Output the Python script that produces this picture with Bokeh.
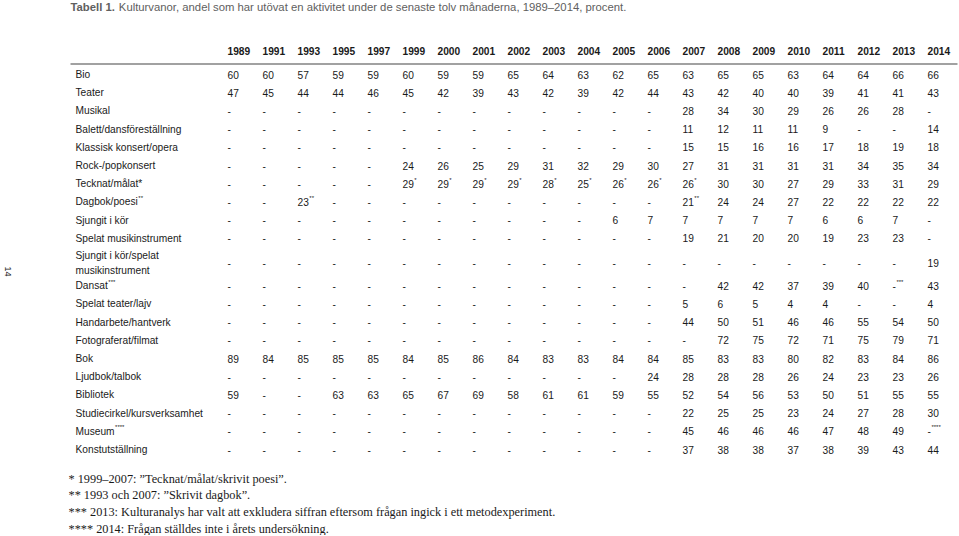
import math
from bokeh.plotting import figure
from bokeh.models import Range1d
from bokeh.core.properties import value
from bokeh.embed import file_html
from bokeh.resources import INLINE

# ---------------- data ----------------
title_bold = "Tabell 1."
title_rest = "Kulturvanor, andel som har utövat en aktivitet under de senaste tolv månaderna, 1989–2014, procent."
page_number = "14"

years = ["1989", "1991", "1993", "1995", "1997", "1999", "2000", "2001", "2002", "2003", "2004",
         "2005", "2006", "2007", "2008", "2009", "2010", "2011", "2012", "2013", "2014"]

# "^" marks the start of a superscript
labels = ["Bio", "Teater", "Musikal", "Balett/dansföreställning", "Klassisk konsert/opera",
          "Rock-/popkonsert", "Tecknat/målat*", "Dagbok/poesi^**", "Sjungit i kör",
          "Spelat musikinstrument", "Sjungit i kör/spelat\nmusikinstrument", "Dansat^***",
          "Spelat teater/lajv", "Handarbete/hantverk", "Fotograferat/filmat", "Bok",
          "Ljudbok/talbok", "Bibliotek", "Studiecirkel/kursverksamhet", "Museum^****",
          "Konstutställning"]

bio = ["60", "60", "57", "59", "59", "60", "59", "59", "65", "64", "63", "62", "65", "63", "65", "65", "63", "64", "64", "66", "66"]
teater = ["47", "45", "44", "44", "46", "45", "42", "39", "43", "42", "39", "42", "44", "43", "42", "40", "40", "39", "41", "41", "43"]
musikal = ["-"] * 13 + ["28", "34", "30", "29", "26", "26", "28", "-"]
balett = ["-"] * 13 + ["11", "12", "11", "11", "9", "-", "-", "14"]
klassisk = ["-"] * 13 + ["15", "15", "16", "16", "17", "18", "19", "18"]
rock = ["-"] * 5 + ["24", "26", "25", "29", "31", "32", "29", "30", "27", "31", "31", "31", "31", "34", "35", "34"]
tecknat = ["-"] * 5 + ["29^*", "29^*", "29^*", "29^*", "28^*", "25^*", "26^*", "26^*", "26^*", "30", "30", "27", "29", "33", "31", "29"]
dagbok = ["-", "-", "23^**", "-", "-", "-", "-", "-", "-", "-", "-", "-", "-", "21^**", "24", "24", "27", "22", "22", "22", "22"]
sjungit = ["-"] * 11 + ["6", "7", "7", "7", "7", "7", "6", "6", "7", "-"]
spelat_instr = ["-"] * 13 + ["19", "21", "20", "20", "19", "23", "23", "-"]
sjungit_spelat = ["-"] * 20 + ["19"]
dansat = ["-"] * 14 + ["42", "42", "37", "39", "40", "-^***", "43"]
spelat_teater = ["-"] * 13 + ["5", "6", "5", "4", "4", "-", "-", "4"]
handarbete = ["-"] * 13 + ["44", "50", "51", "46", "46", "55", "54", "50"]
foto = ["-"] * 14 + ["72", "75", "72", "71", "75", "79", "71"]
bok = ["89", "84", "85", "85", "85", "84", "85", "86", "84", "83", "83", "84", "84", "85", "83", "83", "80", "82", "83", "84", "86"]
ljudbok = ["-"] * 12 + ["24", "28", "28", "28", "26", "24", "23", "23", "26"]
bibliotek = ["59", "-", "-", "63", "63", "65", "67", "69", "58", "61", "61", "59", "55", "52", "54", "56", "53", "50", "51", "55", "55"]
studiecirkel = ["-"] * 13 + ["22", "25", "25", "23", "24", "27", "28", "30"]
museum = ["-"] * 13 + ["45", "46", "46", "46", "47", "48", "49", "-^****"]
konst = ["-"] * 13 + ["37", "38", "38", "37", "38", "39", "43", "44"]

rows = [bio, teater, musikal, balett, klassisk, rock, tecknat, dagbok, sjungit, spelat_instr,
        sjungit_spelat, dansat, spelat_teater, handarbete, foto, bok, ljudbok, bibliotek,
        studiecirkel, museum, konst]

footnotes = ["* 1999–2007: \u201dTecknat/målat/skrivit poesi\u201d.",
             "** 1993 och 2007: \u201dSkrivit dagbok\u201d.",
             "*** 2013: Kulturanalys har valt att exkludera siffran eftersom frågan ingick i ett metodexperiment.",
             "**** 2014: Frågan ställdes inte i årets undersökning."]

# ---------------- layout ----------------
W, H = 958, 535
TOP = 0
LEFT = 0
FONT = "Liberation Sans"
SERIF = "Liberation Serif"
FS = 10.2
TFS = 11.3
TXT = "#1a1a1a"

AW = {' ': 278, '-': 333, '*': 389, '/': 278, '.': 278, ',': 278, '–': 556}
for c in "0123456789":
    AW[c] = 556
for c, w in zip("abcdefghijklmnopqrstuvwxyz", [556, 556, 500, 556, 556, 278, 556, 556, 222, 222, 500, 222, 833,
                                               556, 556, 556, 556, 333, 500, 278, 556, 500, 722, 500, 500, 500]):
    AW[c] = w
for c in "åäö":
    AW[c] = 556
AW.update({'B': 667, 'D': 722, 'M': 833, 'T': 611, 'K': 667, 'S': 667})


def tw(s, size):
    return sum(AW.get(c, 556) for c in s) / 1000.0 * size


col_x0, col_dx = 227, 35.0
label_x = 75
row_y0, row_dy = 74, 18.2


def row_y(i):
    extra = 0
    if i == 10:
        extra = 6
    elif i > 10:
        extra = 11
    return row_y0 + i * row_dy + extra


p = figure(width=W, height=H, output_backend="svg", toolbar_location=None,
           x_range=Range1d(LEFT, LEFT + W), y_range=Range1d(TOP + H, TOP),
           min_border=0, outline_line_color=None)
p.axis.visible = False
p.grid.visible = False
p.background_fill_color = "white"
p.border_fill_color = "white"

# title
title_y = 6.5
p.text(x=[70], y=[title_y], text=[title_bold], text_font=value(FONT), text_font_size=f"{TFS}px",
       text_font_style="bold", text_color="#606060", text_baseline="middle", text_align="left")
bold_w = (611 + 556 + 611 + 556 + 278 + 278 + 278 + 556 + 278) / 1000.0 * TFS
p.text(x=[70 + bold_w + 0.278 * TFS], y=[title_y], text=[title_rest], text_font=value(FONT),
       text_font_size=f"{TFS}px", text_color="#606060", text_baseline="middle", text_align="left")

# page number rotated
p.text(x=[7], y=[271], text=[page_number], angle=-math.pi / 2, text_font=value(FONT),
       text_font_size="9px", text_color=TXT, text_baseline="middle", text_align="center")

# header
hx = [col_x0 + i * col_dx for i in range(len(years))]
p.text(x=hx, y=[50] * len(years), text=years, text_font=value(FONT), text_font_size=f"{FS}px",
       text_font_style="bold", text_color=TXT, text_baseline="middle", text_align="left")
p.segment(x0=[70], y0=[63.5], x1=[957], y1=[63.5], line_color="#444444", line_width=1.2)

# body
mx, my, mt, sx, sy, st = [], [], [], [], [], []
lx, ly, lt = [], [], []
for i, (lab, vals) in enumerate(zip(labels, rows)):
    y = row_y(i)
    lines = lab.split("\n")
    for k, ln in enumerate(lines):
        yy = y + (k - (len(lines) - 1) / 2.0) * 15
        main, _, sup = ln.partition("^")
        lx.append(label_x); ly.append(yy); lt.append(main)
        if sup:
            sx.append(label_x + tw(main, FS) + 0.5); sy.append(yy - 4); st.append(sup)
    for j, v in enumerate(vals):
        x = col_x0 + j * col_dx
        main, _, sup = v.partition("^")
        mx.append(x); my.append(y); mt.append(main)
        if sup:
            sx.append(x + tw(main, FS) + 0.5); sy.append(y - 4); st.append(sup)

p.text(x=lx, y=ly, text=lt, text_font=value(FONT), text_font_size=f"{FS}px", text_color=TXT,
       text_baseline="middle", text_align="left")
p.text(x=mx, y=my, text=mt, text_font=value(FONT), text_font_size=f"{FS}px", text_color=TXT,
       text_baseline="middle", text_align="left")
p.text(x=sx, y=sy, text=st, text_font=value(FONT), text_font_size="6px", text_color=TXT,
       text_baseline="middle", text_align="left")

# footnotes
fy = [478 + k * 16.7 for k in range(len(footnotes))]
p.text(x=[68] * len(footnotes), y=fy, text=footnotes, text_font=value(SERIF), text_font_size="12.3px",
       text_color=TXT, text_baseline="middle", text_align="left")

open("out.html", "w").write(file_html(p, INLINE))
